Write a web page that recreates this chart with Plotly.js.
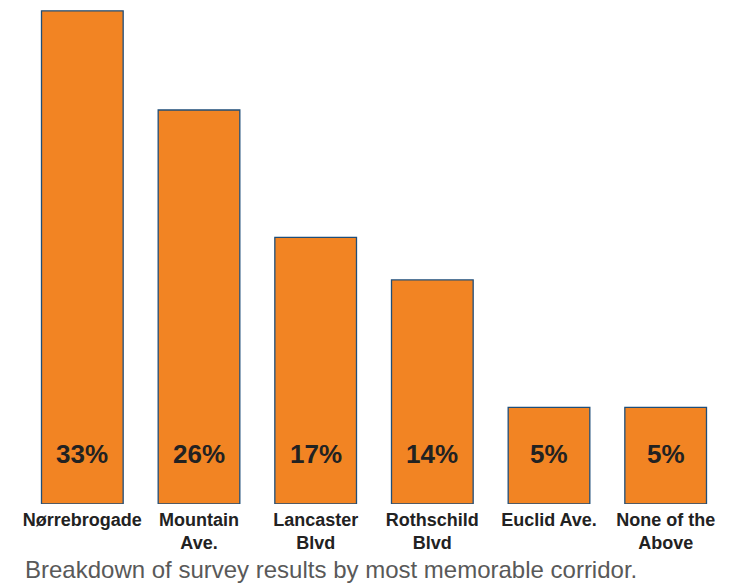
<!DOCTYPE html>
<html>
<head>
<meta charset="utf-8">
<script src="https://cdn.plot.ly/plotly-3.0.1.min.js"></script>
<style>html,body{margin:0;padding:0;background:#fff;}#chart{width:730px;height:584px;}</style>
</head>
<body>
<div id="chart"></div>
<script>
var categories = ["Nørrebrogade", "Mountain<br>Ave.", "Lancaster<br>Blvd", "Rothschild<br>Blvd", "Euclid Ave.", "None of the<br>Above"];
var shares = [33, 26, 17, 14, 5, 5];
var shareLabels = ["33%", "26%", "17%", "14%", "5%", "5%"];
var caption = "Breakdown of survey results by most memorable corridor.";

var axisMin = -1.82, axisMax = 33.2;

var trace = {
  type: "bar",
  x: categories,
  y: shares.map(function(v){ return v - axisMin; }),
  base: axisMin,
  marker: { color: "#F28423", line: { color: "#1F4E79", width: 1.3 } },
  hoverinfo: "none"
};

var annotations = categories.map(function(c, i){
  return {
    x: c, y: axisMin, xref: "x", yref: "y",
    text: "<b>" + shareLabels[i] + "</b>",
    showarrow: false, yanchor: "bottom", yshift: 33,
    font: { family: "Liberation Sans, Arial, sans-serif", size: 26, color: "#222222" }
  };
});
annotations.push({
  xref: "paper", yref: "paper", x: 0, y: 0, xanchor: "left", yanchor: "top",
  yshift: -50, xshift: -1,
  text: caption, showarrow: false,
  font: { family: "Liberation Sans, Arial, sans-serif", size: 24, color: "#595959" }
});

var layout = {
  width: 730, height: 584,
  margin: { l: 24, r: 6, t: 8, b: 80 },
  paper_bgcolor: "#ffffff", plot_bgcolor: "#ffffff",
  bargap: 0.3,
  showlegend: false,
  xaxis: {
    type: "category", showgrid: false, zeroline: false, showline: false, ticks: "",
    tickfont: { family: "Liberation Sans, Arial, sans-serif", size: 18, color: "#222222", weight: "bold" },
    tickangle: 0, ticklabelstandoff: 3
  },
  yaxis: { range: [axisMin, axisMax], visible: false, showgrid: false, zeroline: false, fixedrange: true },
  annotations: annotations
};

Plotly.newPlot("chart", [trace], layout, { displayModeBar: false, staticPlot: true });
</script>
</body>
</html>
